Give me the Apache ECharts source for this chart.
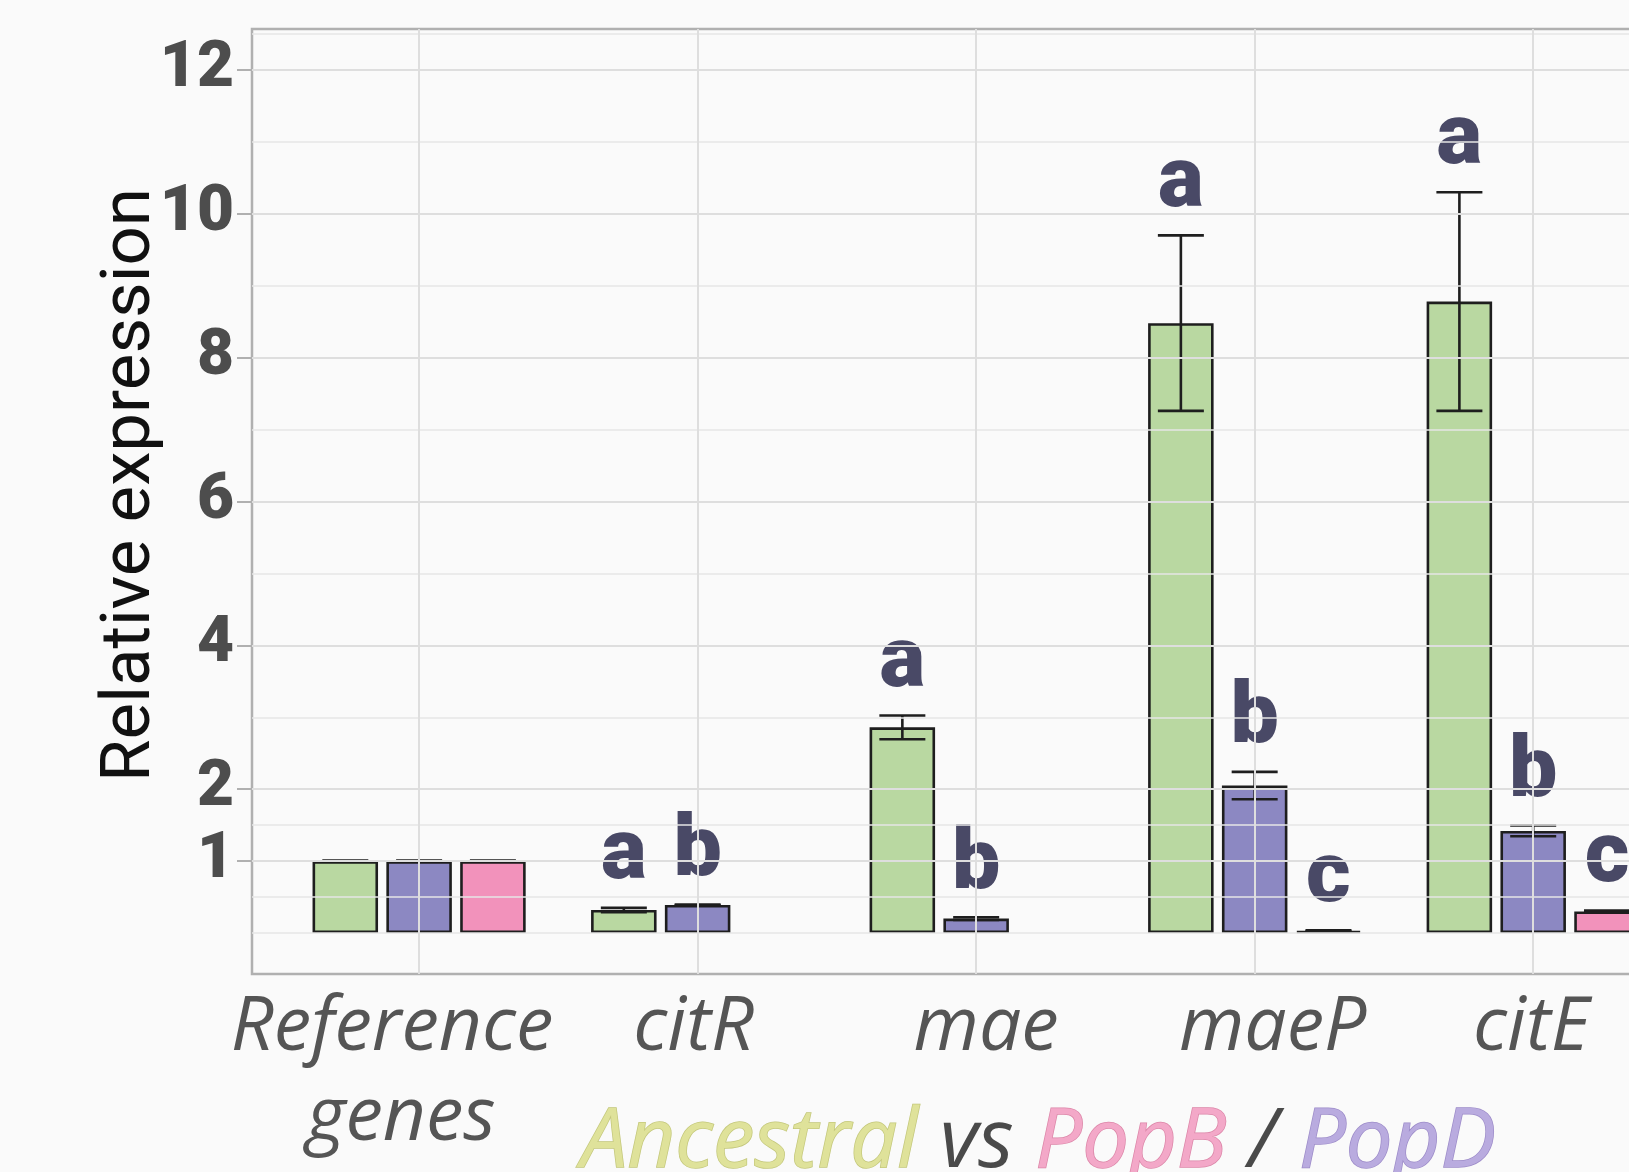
<!DOCTYPE html>
<html>
<head>
<meta charset="utf-8">
<script src="https://cdn.jsdelivr.net/npm/echarts@6/dist/echarts.min.js"></script>
<style>
  html, body { margin: 0; padding: 0; background: #fafafa; }
  #chart { width: 1629px; height: 1172px; }
</style>
</head>
<body>
<div id="chart"></div>
<script>
// gene groups on the x axis (positions 1..5)
const categories = ['Reference\ngenes', 'citR', 'mae', 'maeP', 'citE']
const catPos = [1, 2, 3, 4, 5]

// relative expression, mean and error
const ancestral = [1.0, 0.32, 2.86, 8.48, 8.78]
const ancestralErr = [0.006, 0.03, 0.165, 1.22, 1.52]
const popD = [1.0, 0.39, 0.2, 2.05, 1.42]
const popDErr = [0.006, 0.005, 0.02, 0.19, 0.075]
const popB = [1.0, null, null, 0.03, 0.3]
const popBErr = [0.006, null, null, 0.008, 0.012]

// significance letters
const ancestralLetters = ['', 'a', 'a', 'a', 'a']
const popDLetters = ['', 'b', 'b', 'b', 'b']
const popBLetters = ['', '', '', 'c', 'c']

// y axis breaks
const yTicks = [1, 2, 4, 6, 8, 10, 12]
const yMinor = [0, 0.5, 1.5, 3, 5, 7, 9, 11, 12.5]

const BAR_W = 65.5
const GAP = 8.3
const CAP_W = 46
const INK = '#1e1e1e'
const LETTER = '#494966'

// hand placed label lines in the original, nudged in px (negative = left)
const labelShift = { Reference: -27, genes: -18, citR: -4, mae: 10, maeP: 18, citE: -2 }

const chart = echarts.init(document.getElementById('chart'))

const toPairs = (vals) => catPos.map((x, i) => [x, vals[i]])

const barSeries = (name, vals, color) => ({
  name,
  type: 'bar',
  data: toPairs(vals),
  barWidth: BAR_W,
  barGap: (GAP / BAR_W * 100).toFixed(1) + '%',
  z: 2,
  itemStyle: { color, borderColor: INK, borderWidth: 2.6 },
  emphasis: { disabled: true }
})

const errSeries = (vals, errs, letters, slot) => ({
  type: 'custom',
  z: 3,
  silent: true,
  data: catPos.map((x, i) => [x, vals[i], errs[i], i]).filter(d => d[1] != null),
  renderItem: (params, api) => {
    const x = api.value(0)
    const m = api.value(1)
    const e = api.value(2)
    const idx = api.value(3)
    const cx = api.coord([x, m])[0] + (slot - 1) * (BAR_W + GAP)
    const yTop = api.coord([x, m + e])[1]
    const yBot = api.coord([x, m - e])[1]
    const ls = { stroke: INK, lineWidth: 2.6 }
    return {
      type: 'group',
      children: [
        { type: 'line', shape: { x1: cx, y1: yTop, x2: cx, y2: yBot }, style: ls },
        { type: 'line', shape: { x1: cx - CAP_W / 2, y1: yTop, x2: cx + CAP_W / 2, y2: yTop }, style: ls },
        { type: 'line', shape: { x1: cx - CAP_W / 2, y1: yBot, x2: cx + CAP_W / 2, y2: yBot }, style: ls },
        {
          type: 'text',
          style: {
            text: letters[idx], x: cx, y: yTop - 8,
            fill: LETTER, fontSize: 86, fontWeight: 900, fontFamily: 'Roboto',
            align: 'center', verticalAlign: 'bottom'
          }
        }
      ]
    }
  }
})

// x label: each line gets its own rich style so it can be nudged sideways
const xRich = {}
Object.keys(labelShift).forEach((k) => {
  const s = labelShift[k]
  xRich[k] = {
    fontSize: 75, fontStyle: 'italic', fontFamily: 'Open Sans', color: '#555555', lineHeight: 90,
    padding: s < 0 ? [0, -2 * s, 0, 0] : [0, 0, 0, 2 * s]
  }
})
const xFormatter = (v) => {
  const name = categories[catPos.indexOf(v)]
  if (!name) return ''
  return name.split('\n').map(line => (xRich[line] ? '{' + line + '|' + line + '}' : line)).join('\n')
}

const capStyle = (color, border) => ({
  fontSize: 83, fontStyle: 'italic', fontWeight: 'normal', fontFamily: 'Open Sans',
  color, textBorderColor: border, textBorderWidth: border ? 1.5 : 0
})

const option = {
  backgroundColor: '#fafafa',
  animation: false,
  title: {
    left: 576,
    top: 1097,
    text: '{anc|Ancestral}{vs| vs }{b|PopB}{vs| / }{d|PopD}',
    textStyle: {
      fontWeight: 'normal',
      rich: {
        anc: capStyle('#dfe29a', '#c3c77a'),
        vs: capStyle('#4a4a4a', null),
        b: capStyle('#f3a8c8', '#dc86a8'),
        d: capStyle('#b9abdf', '#9d8cc9')
      }
    }
  },
  // y axis title, rotated
  graphic: [{
    type: 'text',
    x: 132,
    y: 485,
    rotation: Math.PI / 2,
    silent: true,
    style: {
      text: 'Relative expression',
      fontSize: 69,
      fontFamily: 'Roboto',
      fill: '#111111',
      align: 'center',
      verticalAlign: 'middle'
    }
  }],
  grid: {
    left: 252,
    top: 29,
    width: 1438,
    height: 945,
    outerBoundsMode: 'none',
    show: true,
    backgroundColor: '#fafafa',
    borderColor: '#b0b0b0',
    borderWidth: 2.5
  },
  xAxis: {
    type: 'value',
    min: 0.4,
    max: 5.563,
    axisLine: { show: false },
    splitLine: { show: false },
    axisTick: { show: true, customValues: catPos, length: 15, lineStyle: { color: '#b0b0b0', width: 2 } },
    axisLabel: {
      customValues: catPos,
      formatter: xFormatter,
      margin: 10,
      color: '#555555',
      fontSize: 75,
      fontStyle: 'italic',
      fontFamily: 'Open Sans',
      lineHeight: 90,
      rich: xRich
    }
  },
  yAxis: {
    type: 'value',
    min: -0.57,
    max: 12.57,
    axisLine: { show: false },
    splitLine: { show: false },
    axisTick: { show: true, customValues: yTicks, length: 15, lineStyle: { color: '#b0b0b0', width: 2 } },
    axisLabel: {
      customValues: yTicks,
      margin: 18,
      color: '#4d4d4d',
      fontSize: 64,
      fontWeight: 900,
      fontFamily: 'Roboto'
    }
  },
  series: [
    {
      type: 'line',
      data: [],
      z: 1,
      silent: true,
      markLine: {
        silent: true,
        symbol: 'none',
        label: { show: false },
        animation: false,
        data: [
          ...yMinor.map(v => ({ yAxis: v, lineStyle: { color: '#e6e6e6', width: 1.5, type: 'solid' } })),
          ...yTicks.map(v => ({ yAxis: v, lineStyle: { color: '#dedede', width: 2, type: 'solid' } })),
          ...catPos.map(v => ({ xAxis: v, lineStyle: { color: '#dedede', width: 2, type: 'solid' } }))
        ]
      }
    },
    barSeries('Ancestral', ancestral, 'rgba(175,211,148,0.88)'),
    barSeries('PopD', popD, 'rgba(124,120,186,0.88)'),
    barSeries('PopB', popB, 'rgba(240,131,178,0.88)'),
    errSeries(ancestral, ancestralErr, ancestralLetters, 0),
    errSeries(popD, popDErr, popDLetters, 1),
    errSeries(popB, popBErr, popBLetters, 2)
  ]
}

chart.setOption(option)
</script>
</body>
</html>
